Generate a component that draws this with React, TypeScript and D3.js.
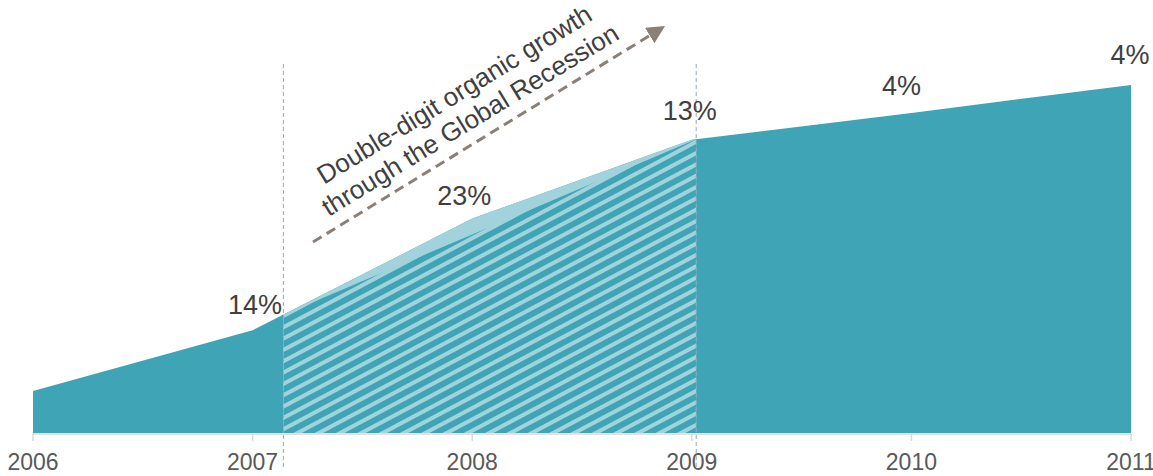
import React from "react";
import * as d3 from "d3";

const years = [2006, 2007, 2008, 2009, 2010, 2011];
const values = [42, 103, 215, 294, 321, 349];
const growthLabels = ["", "14%", "23%", "13%", "4%", "4%"];
const tickLabels = ["2006", "2007", "2008", "2009", "2010", "2011"];
const hatchStart = 2007.14;
const hatchEnd = 2009.02;
const annotationLines = ["Double-digit organic growth", "through the Global Recession"];

const W = 1153;
const H = 476;
const TEAL = "#3fa4b6";
const LIGHT = "#a2d3dc";

export default function App() {
  const x = d3.scaleLinear().domain([2006, 2011]).range([33, 1131]);
  const y = d3.scaleLinear().domain([0, 350]).range([433, 84]);
  const data = years.map((yr, i) => ({ yr, v: values[i] }));
  const interp = (yr: number) => {
    const i = Math.min(years.length - 2, Math.max(0, Math.floor(yr - 2006)));
    const t = (yr - years[i]) / (years[i + 1] - years[i]);
    return values[i] + (values[i + 1] - values[i]) * t;
  };

  const area = d3
    .area<{ yr: number; v: number }>()
    .x((d) => x(d.yr))
    .y0(y(0))
    .y1((d) => y(d.v));

  const hatchData = [
    { yr: hatchStart, v: interp(hatchStart) },
    ...data.filter((d) => d.yr > hatchStart && d.yr < hatchEnd),
    { yr: hatchEnd, v: interp(hatchEnd) },
  ];
  const chordData = [hatchData[0], hatchData[hatchData.length - 1]];

  const labelOffsets: Record<number, [number, number]> = {
    1: [2.5, -16],
    2: [-8, -14],
    3: [-2, -20],
    4: [-10, -18],
    5: [-1, -21],
  };

  return (
    <svg
      width={W}
      height={H}
      style={{ position: "absolute", left: 0, top: 0, display: "block" }}
      fontFamily="'Liberation Sans', Arial, sans-serif"
    >
      <defs>
        <pattern
          id="stripes"
          patternUnits="userSpaceOnUse"
          width="20"
          height="10"
          patternTransform="rotate(-28)"
        >
          <rect x="0" y="0" width="20" height="10" fill={TEAL} />
          <rect x="0" y="0" width="20" height="4" fill={LIGHT} />
        </pattern>
        <clipPath id="chordClip">
          <path d={area(chordData) || ""} />
        </clipPath>
        <marker
          id="arrowHead"
          viewBox="0 0 10 10"
          refX="8"
          refY="5"
          markerWidth="6"
          markerHeight="6"
          orient="auto"
          markerUnits="strokeWidth"
        >
          <path d="M0,0 L10,5 L0,10 z" fill="#8a8077" />
        </marker>
      </defs>

      {/* main area */}
      <path d={area(data) || ""} fill={TEAL} />
      {/* hatched region: light fill following data, stripes under chord */}
      <path d={area(hatchData) || ""} fill={LIGHT} />
      <g clipPath="url(#chordClip)">
        <rect
          x={x(hatchStart)}
          y={0}
          width={x(hatchEnd) - x(hatchStart)}
          height={y(0)}
          fill="url(#stripes)"
        />
      </g>

      {/* axis */}
      <line x1={x(2006)} x2={x(2011)} y1={434} y2={434} stroke="#d9d9d9" strokeWidth={1.5} />
      {years.map((yr, i) => (
        <g key={yr}>
          <line x1={x(yr)} x2={x(yr)} y1={434} y2={441} stroke="#d9d9d9" strokeWidth={1.5} />
          <text x={x(yr)} y={470} textAnchor="middle" fontSize={23} fill="#595959">
            {tickLabels[i]}
          </text>
        </g>
      ))}

      {/* dashed vertical guides */}
      {[hatchStart, hatchEnd].map((yr) => (
        <line
          key={yr}
          x1={x(yr)}
          x2={x(yr)}
          y1={64}
          y2={470}
          stroke="#8fa8bd"
          strokeWidth={1}
          strokeDasharray="4,3"
        />
      ))}

      {/* growth labels */}
      {data.map((d, i) =>
        growthLabels[i] ? (
          <text
            key={d.yr}
            x={x(d.yr) + labelOffsets[i][0]}
            y={y(d.v) + labelOffsets[i][1]}
            textAnchor="middle"
            fontSize={27}
            fill="#404040"
          >
            {growthLabels[i]}
          </text>
        ) : null
      )}

      {/* arrow */}
      <line
        x1={313}
        y1={242}
        x2={662}
        y2={28}
        stroke="#8a8077"
        strokeWidth={3}
        strokeDasharray="10,6"
        markerEnd="url(#arrowHead)"
      />

      {/* annotation */}
      <g transform="translate(459,102) rotate(-31.5)">
        {annotationLines.map((t, i) => (
          <text key={i} x={0} y={i * 30} textAnchor="middle" fontSize={26} fill="#404040">
            {t}
          </text>
        ))}
      </g>
    </svg>
  );
}
